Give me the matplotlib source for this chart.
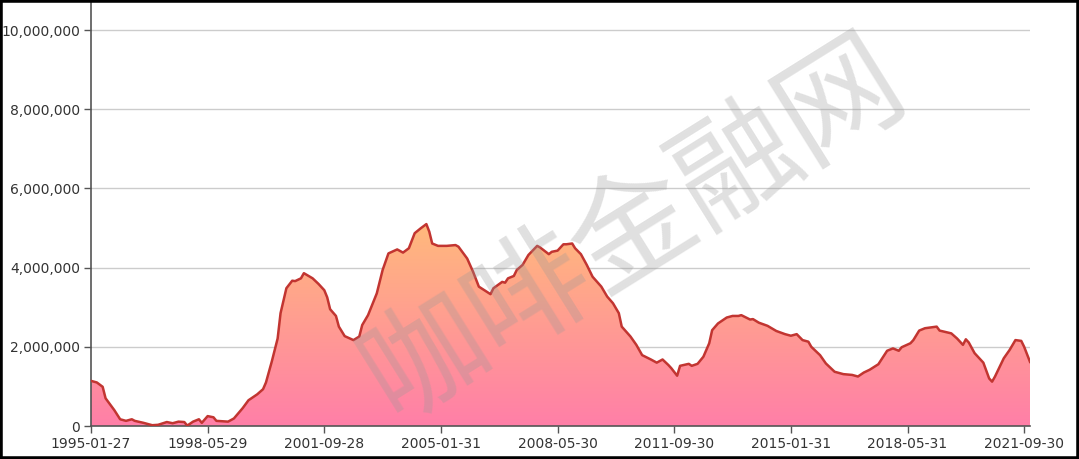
import numpy as np
import matplotlib
matplotlib.use("Agg")
import matplotlib.pyplot as plt
from matplotlib.colors import LinearSegmentedColormap
from matplotlib.patches import Rectangle
from matplotlib.ticker import FuncFormatter

# month offsets from 1995-01 and values (millions)
months = [0, 2, 4, 5, 7, 8, 10, 12, 14, 15, 18, 21, 23, 26, 28, 30, 32, 33, 35, 37,
          38, 40, 42, 43, 47, 49, 52, 54, 57, 59, 60, 62, 64, 65, 67, 69, 70, 72, 73, 76,
          78, 80, 81, 82, 84, 85, 87, 90, 92, 93, 95, 98, 100, 102, 105, 107, 109, 111, 113, 115,
          116, 117, 119, 122, 125, 126, 129, 131, 133, 137, 138, 141, 142, 143, 145, 146, 148, 150, 153, 154,
          157, 158, 160, 162, 163, 165, 166, 168, 170, 172, 175, 177, 179, 181, 182, 185, 187, 189, 192, 194,
          196, 198, 199, 201, 202, 205, 206, 208, 210, 212, 213, 215, 218, 220, 222, 223, 226, 227, 229, 232,
          235, 238, 240, 242, 244, 246, 247, 250, 252, 255, 258, 261, 263, 265, 267, 270, 273, 275, 277, 278,
          281, 282, 284, 286, 290, 291, 295, 297, 299, 300, 301, 303, 306, 308, 309, 310, 313, 315, 317, 319,
          320, 322]
values = [1.14, 1.10, 0.99, 0.70, 0.50, 0.40, 0.17, 0.13, 0.17, 0.13, 0.08, 0.02, 0.03, 0.10, 0.07, 0.11, 0.10, 0.01, 0.11, 0.17,
          0.08, 0.25, 0.22, 0.13, 0.11, 0.19, 0.45, 0.65, 0.80, 0.93, 1.10, 1.63, 2.21, 2.85, 3.48, 3.67, 3.66, 3.73, 3.86, 3.73,
          3.59, 3.43, 3.25, 2.95, 2.78, 2.51, 2.27, 2.17, 2.26, 2.55, 2.80, 3.35, 3.94, 4.36, 4.46, 4.38, 4.49, 4.87, 4.99, 5.10,
          4.91, 4.61, 4.55, 4.55, 4.57, 4.53, 4.23, 3.90, 3.52, 3.33, 3.48, 3.64, 3.62, 3.73, 3.79, 3.94, 4.07, 4.32, 4.55, 4.51,
          4.34, 4.40, 4.43, 4.59, 4.59, 4.61, 4.49, 4.34, 4.07, 3.77, 3.52, 3.27, 3.10, 2.85, 2.51, 2.26, 2.05, 1.79, 1.68, 1.60,
          1.68, 1.54, 1.46, 1.27, 1.52, 1.57, 1.52, 1.57, 1.75, 2.09, 2.42, 2.59, 2.74, 2.78, 2.78, 2.80, 2.69, 2.70, 2.61, 2.53,
          2.40, 2.32, 2.28, 2.32, 2.17, 2.13, 2.00, 1.79, 1.58, 1.37, 1.31, 1.29, 1.25, 1.35, 1.42, 1.56, 1.90, 1.96, 1.90, 1.99,
          2.09, 2.17, 2.41, 2.47, 2.51, 2.41, 2.34, 2.21, 2.05, 2.19, 2.11, 1.84, 1.60, 1.20, 1.12, 1.25, 1.71, 1.92, 2.17, 2.15,
          2.00, 1.62]

tick_months = [0, 40, 80, 120, 160, 200, 240, 280, 320]
tick_labels = ["1995-01-27", "1998-05-29", "2001-09-28", "2005-01-31", "2008-05-30",
               "2011-09-30", "2015-01-31", "2018-05-31", "2021-09-30"]

x = np.array(months)
y = np.array(values) * 1e6

fig = plt.figure(figsize=(10.79, 4.59), dpi=100)
ax = fig.add_axes([91 / 1079, 33 / 459, 939 / 1079, 424 / 459])

ymax = 10.71e6
ax.set_xlim(0, 322)
ax.set_ylim(0, ymax)

# gradient fill under the line
cmap = LinearSegmentedColormap.from_list("g", ["#ff7fa8", "#ffb97c"])
poly = ax.fill_between(x, 0, y, facecolor="none", edgecolor="none")
grad = np.linspace(0, 1, 256).reshape(-1, 1)
img = ax.imshow(grad, cmap=cmap, origin="lower", aspect="auto",
                extent=[0, 322, 0, y.max()], zorder=1)
img.set_clip_path(poly.get_paths()[0], transform=ax.transData)
ax.plot(x, y, color="#c23531", lw=1.8, zorder=3)

for v in range(2000000, 10000001, 2000000):
    ax.axhline(v, color="#cccccc", lw=1, zorder=0)

ax.set_yticks(range(0, 10000001, 2000000))
ax.yaxis.set_major_formatter(FuncFormatter(lambda v, p: f"{int(v):,}"))
ax.set_xticks(tick_months)
ax.set_xticklabels(tick_labels)
ax.tick_params(axis="both", colors="#555555", labelsize=10, length=5, width=1)
ax.tick_params(axis="x", labelcolor="#333333", pad=3)
ax.tick_params(axis="y", labelcolor="#333333", pad=3)
for s in ["top", "right"]:
    ax.spines[s].set_visible(False)
for s in ["left", "bottom"]:
    ax.spines[s].set_color("#555555")
    ax.spines[s].set_linewidth(1.2)

# watermark
fig.text(0.588, 0.50, "咖啡金融网", rotation=32, ha="center", va="center",
         fontsize=88, color="#999999", alpha=0.3, family=["Noto Sans CJK SC", "DejaVu Sans"],
         fontweight="light", zorder=5)

# frame
fig.patches.append(Rectangle((0, 0), 1, 1, transform=fig.transFigure, fill=False,
                             edgecolor="black", lw=4, zorder=10))

fig.savefig("out.png", dpi=100)
